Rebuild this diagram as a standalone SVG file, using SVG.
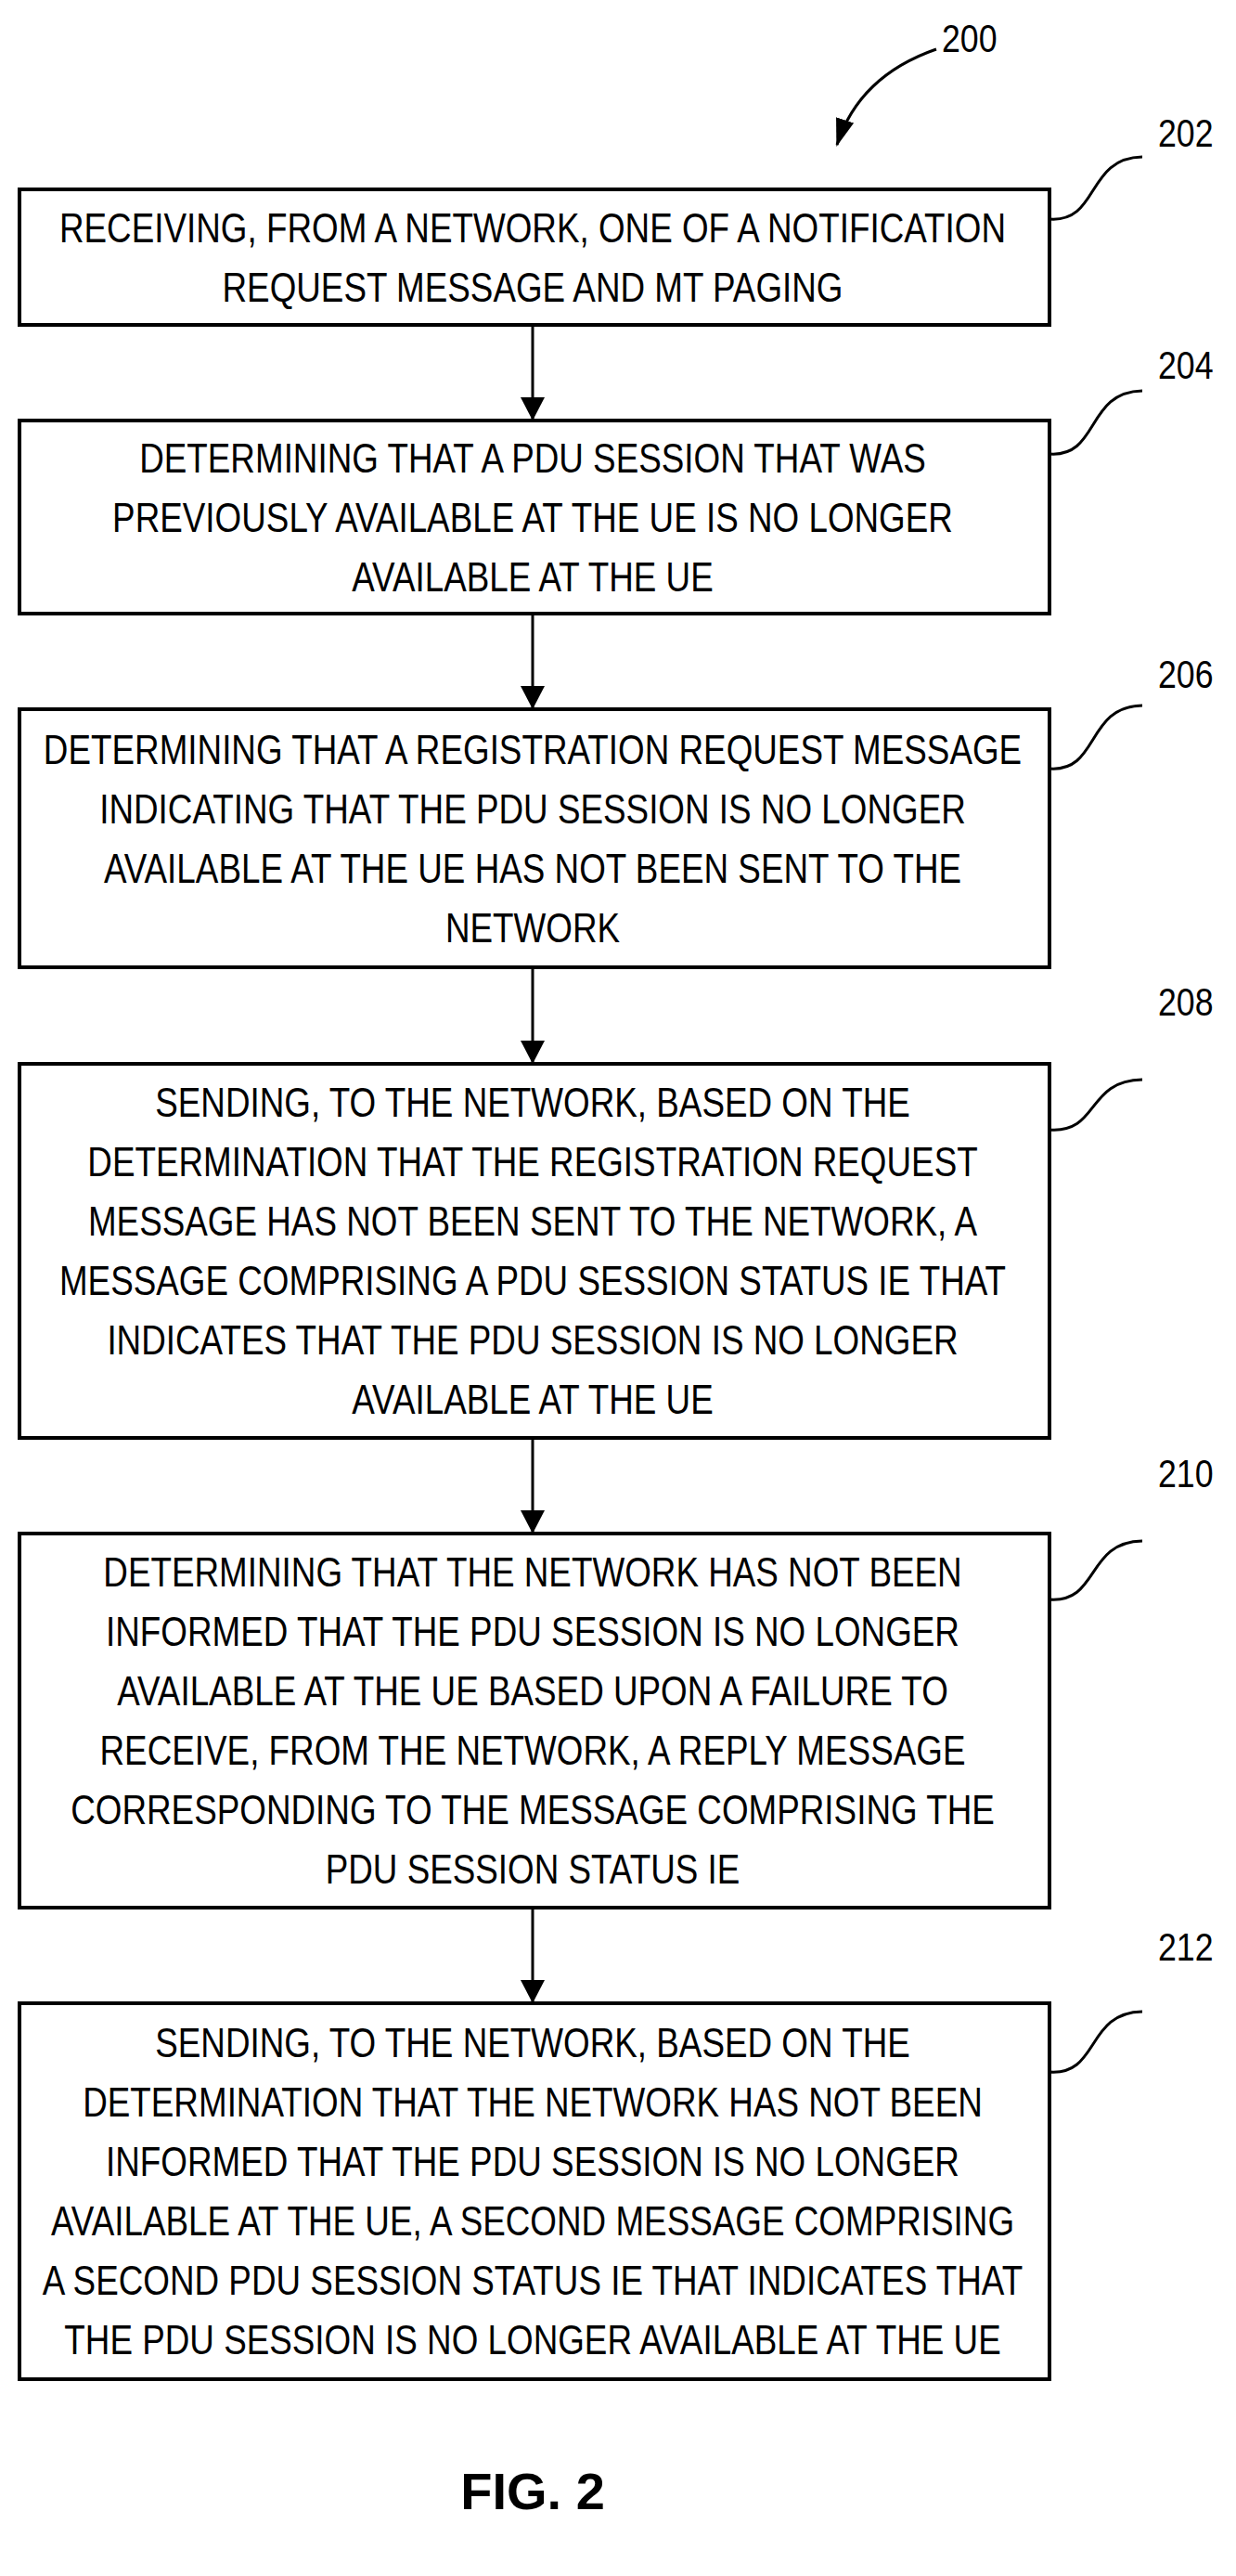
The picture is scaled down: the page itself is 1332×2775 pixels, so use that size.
<svg xmlns="http://www.w3.org/2000/svg" width="1332" height="2775" viewBox="0 0 1332 2775">
<style>
.box{fill:#fff;stroke:#000;stroke-width:4}
.t{font-family:"Liberation Sans",Arial,sans-serif;font-size:44px;text-anchor:middle;fill:#000}
.lbl{font-family:"Liberation Sans",Arial,sans-serif;font-size:42px;fill:#000}
.c{fill:none;stroke:#000;stroke-width:3}
</style>
<defs>
<marker id="ah2" markerWidth="30" markerHeight="30" refX="28" refY="15" orient="auto" markerUnits="userSpaceOnUse"><path d="M0,5 L30,15 L0,25 z" fill="#000"/></marker>
</defs>
<rect width="1332" height="2775" fill="#fff"/>
<g id="ref200">
<g transform="translate(1015 56) scale(0.85 1)"><text class="lbl" x="0" y="0">200</text></g>
<path d="M1009,53 C960,70 920,100 902,156" class="c" marker-end="url(#ah2)"/>
</g>
<g id="connectors">
<path d="M574,350 L574,451" stroke="#000" stroke-width="3"/><path d="M561,428 L587,428 L574,453 z"/>
<path d="M574,661 L574,762" stroke="#000" stroke-width="3"/><path d="M561,739 L587,739 L574,764 z"/>
<path d="M574,1042 L574,1144" stroke="#000" stroke-width="3"/><path d="M561,1121 L587,1121 L574,1146 z"/>
<path d="M574,1549 L574,1650" stroke="#000" stroke-width="3"/><path d="M561,1627 L587,1627 L574,1652 z"/>
<path d="M574,2055 L574,2156" stroke="#000" stroke-width="3"/><path d="M561,2133 L587,2133 L574,2158 z"/>
</g>
<g id="n202">
<rect class="box" x="21" y="204" width="1110" height="146"/>
<g transform="translate(574 0) scale(0.837 1)"><text class="t" x="0" y="261">RECEIVING, FROM A NETWORK, ONE OF A NOTIFICATION</text><text class="t" x="0" y="325">REQUEST MESSAGE AND MT PAGING</text></g>
<path class="c" d="M1131,236 C1185,240 1170,170 1231,169"/>
<g transform="translate(1248 158) scale(0.85 1)"><text class="lbl" x="0" y="0">202</text></g>
</g>
<g id="n204">
<rect class="box" x="21" y="453" width="1110" height="208"/>
<g transform="translate(574 0) scale(0.837 1)"><text class="t" x="0" y="509">DETERMINING THAT A PDU SESSION THAT WAS</text><text class="t" x="0" y="573">PREVIOUSLY AVAILABLE AT THE UE IS NO LONGER</text><text class="t" x="0" y="637">AVAILABLE AT THE UE</text></g>
<path class="c" d="M1131,489 C1185,493 1170,422 1231,421"/>
<g transform="translate(1248 408) scale(0.85 1)"><text class="lbl" x="0" y="0">204</text></g>
</g>
<g id="n206">
<rect class="box" x="21" y="764" width="1110" height="278"/>
<g transform="translate(574 0) scale(0.837 1)"><text class="t" x="0" y="823">DETERMINING THAT A REGISTRATION REQUEST MESSAGE</text><text class="t" x="0" y="887">INDICATING THAT THE PDU SESSION IS NO LONGER</text><text class="t" x="0" y="951">AVAILABLE AT THE UE HAS NOT BEEN SENT TO THE</text><text class="t" x="0" y="1015">NETWORK</text></g>
<path class="c" d="M1131,828 C1185,832 1170,761 1231,760"/>
<g transform="translate(1248 741) scale(0.85 1)"><text class="lbl" x="0" y="0">206</text></g>
</g>
<g id="n208">
<rect class="box" x="21" y="1146" width="1110" height="403"/>
<g transform="translate(574 0) scale(0.837 1)"><text class="t" x="0" y="1203">SENDING, TO THE NETWORK, BASED ON THE</text><text class="t" x="0" y="1267">DETERMINATION THAT THE REGISTRATION REQUEST</text><text class="t" x="0" y="1331">MESSAGE HAS NOT BEEN SENT TO THE NETWORK, A</text><text class="t" x="0" y="1395">MESSAGE COMPRISING A PDU SESSION STATUS IE THAT</text><text class="t" x="0" y="1459">INDICATES THAT THE PDU SESSION IS NO LONGER</text><text class="t" x="0" y="1523">AVAILABLE AT THE UE</text></g>
<path class="c" d="M1131,1217 C1185,1221 1170,1164 1231,1163"/>
<g transform="translate(1248 1094) scale(0.85 1)"><text class="lbl" x="0" y="0">208</text></g>
</g>
<g id="n210">
<rect class="box" x="21" y="1652" width="1110" height="403"/>
<g transform="translate(574 0) scale(0.837 1)"><text class="t" x="0" y="1709">DETERMINING THAT THE NETWORK HAS NOT BEEN</text><text class="t" x="0" y="1773">INFORMED THAT THE PDU SESSION IS NO LONGER</text><text class="t" x="0" y="1837">AVAILABLE AT THE UE BASED UPON A FAILURE TO</text><text class="t" x="0" y="1901">RECEIVE, FROM THE NETWORK, A REPLY MESSAGE</text><text class="t" x="0" y="1965">CORRESPONDING TO THE MESSAGE COMPRISING THE</text><text class="t" x="0" y="2029">PDU SESSION STATUS IE</text></g>
<path class="c" d="M1131,1723 C1185,1727 1170,1661 1231,1660"/>
<g transform="translate(1248 1602) scale(0.85 1)"><text class="lbl" x="0" y="0">210</text></g>
</g>
<g id="n212">
<rect class="box" x="21" y="2158" width="1110" height="405"/>
<g transform="translate(574 0) scale(0.837 1)"><text class="t" x="0" y="2216">SENDING, TO THE NETWORK, BASED ON THE</text><text class="t" x="0" y="2280">DETERMINATION THAT THE NETWORK HAS NOT BEEN</text><text class="t" x="0" y="2344">INFORMED THAT THE PDU SESSION IS NO LONGER</text><text class="t" x="0" y="2408">AVAILABLE AT THE UE, A SECOND MESSAGE COMPRISING</text><text class="t" x="0" y="2472">A SECOND PDU SESSION STATUS IE THAT INDICATES THAT</text><text class="t" x="0" y="2536">THE PDU SESSION IS NO LONGER AVAILABLE AT THE UE</text></g>
<path class="c" d="M1131,2232 C1185,2236 1170,2168 1231,2167"/>
<g transform="translate(1248 2112) scale(0.85 1)"><text class="lbl" x="0" y="0">212</text></g>
</g>
<text x="574" y="2703" font-family="Liberation Sans,Arial,sans-serif" font-weight="bold" font-size="56" text-anchor="middle">FIG. 2</text>
</svg>
